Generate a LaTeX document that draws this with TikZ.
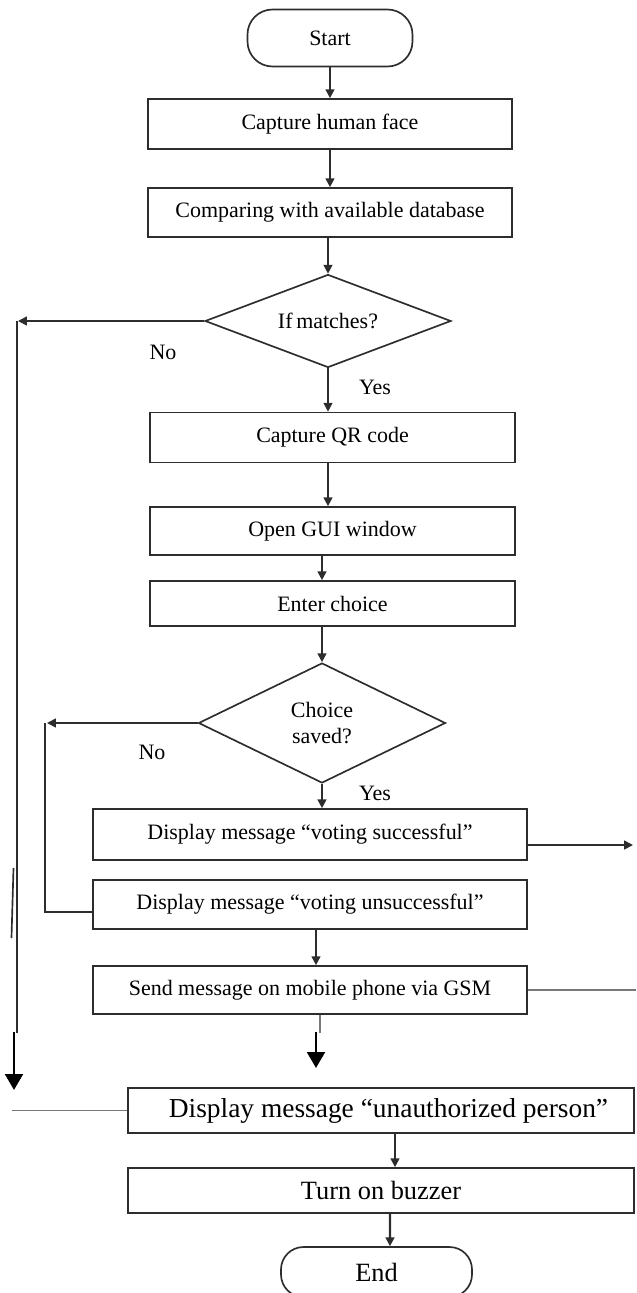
\documentclass[tikz,border=0pt]{standalone}
\usepackage{fontspec}
\setmainfont{Liberation Serif}
\usetikzlibrary{shapes.geometric, arrows.meta, calc}
\definecolor{FlowLine}{RGB}{45,45,45}
\definecolor{FlowGray}{RGB}{120,120,120}

\begin{document}
\begin{tikzpicture}[
          prc/.style={rectangle, draw=FlowLine, line width=0.95pt, inner sep=2pt,
                      minimum width=7.28cm, minimum height=1cm, align=center,
                      font=\fontsize{12.5}{15}\selectfont},
          dcs/.style={diamond, draw=FlowLine, line width=0.95pt, inner sep=0pt,
                      aspect=2.4, align=center, font=\fontsize{12.5}{15}\selectfont},
          trm/.style={rectangle, rounded corners=0.5cm, draw=FlowLine, line width=0.95pt,
                      minimum width=3.3cm, minimum height=1.14cm,
                      font=\fontsize{12.5}{15}\selectfont},
          big/.style={font=\fontsize{15}{18}\selectfont},
          lbl/.style={font=\fontsize{12.5}{15}\selectfont},
          ln/.style={draw=FlowLine, line width=0.95pt},
          arr/.style={-{Triangle[length=5pt, width=5pt]}, draw=FlowLine, line width=0.95pt},
          heavy/.style={-{Triangle[length=9pt, width=10pt]}, draw=black, line width=1.6pt}
        ]
        \useasboundingbox (0,0) rectangle (12.72,-25.86);

        % main column
        \node[trm] (start) at (6.6,-0.76) {Start};
        \node[prc] (face) at (6.6,-2.48) {Capture human face};
        \node[prc, minimum height=0.98cm] (cmp) at (6.6,-4.25)
              {Comparing with available database};
        \node[dcs, minimum width=4.92cm, minimum height=1.86cm] (match)
              at (6.56,-6.42) {If\,matches?};
        \node[prc, minimum width=7.3cm] (qr) at (6.65,-8.75) {Capture QR code};
        \node[prc, minimum width=7.3cm, minimum height=0.96cm] (gui)
              at (6.65,-10.62) {Open GUI window};
        \node[prc, minimum width=7.3cm, minimum height=0.9cm] (choice)
              at (6.65,-12.07) {Enter choice};
        \node[dcs, minimum width=4.94cm, minimum height=2.4cm] (saved)
              at (6.44,-14.46) {Choice\\saved?};
        \node[prc, minimum width=8.68cm, minimum height=1.02cm] (succ)
              at (6.2,-16.69) {Display message “voting successful”};
        \node[prc, minimum width=8.68cm, minimum height=0.98cm] (unsucc)
              at (6.2,-18.09) {Display message “voting unsuccessful”};
        \node[prc, minimum width=8.68cm, minimum height=0.96cm] (gsm)
              at (6.2,-19.8) {Send message on mobile phone via GSM};

        % bottom part
        \node[prc, font=\fontsize{15.6}{18}\selectfont, minimum width=10.12cm,
              minimum height=0.9cm] (unauth)
              at (7.62,-22.21) {\hspace*{0.3cm}Display message “unauthorized person”};
        \node[prc, big, minimum width=10.12cm, minimum height=0.9cm] (buzz)
              at (7.62,-23.81) {Turn on buzzer};
        \node[trm, big, minimum width=3.82cm, minimum height=1cm,
              rounded corners=0.45cm] (end) at (7.53,-25.44) {End};

        % yes / no labels
        \node[lbl] (noA-l) at (3.26,-7.04) {No};
        \node[lbl] (yesA-l) at (7.5,-7.74) {Yes};
        \node[lbl] (noB-l) at (3.04,-15.04) {No};
        \node[lbl] (yesB-l) at (7.5,-15.86) {Yes};

        % free ends
        \coordinate (noA) at (0.36,-6.42);
        \coordinate (dropA) at (0.34,-20.66);
        \coordinate (noB) at (0.94,-14.46);
        \coordinate (leftTop) at (0.28,-20.64);
        \coordinate (leftEnd) at (0.28,-21.8);
        \coordinate (tail) at (0.24,-22.21);
        \coordinate (stub) at (6.4,-20.66);
        \coordinate (gsmTop) at (6.32,-20.64);
        \coordinate (gsmTip) at (6.32,-21.36);
        \coordinate (outR) at (12.66,-16.9);
        \coordinate (outG) at (12.72,-19.8);

        % connectors
        \draw[arr] (start) -- (face);
        \draw[arr] (face) -- (cmp);
        \draw[arr] (cmp.south -| match.north) -- (match.north);
        \draw[arr] (match.south) -- (match.south |- qr.north);
        \draw[arr] (qr.south -| match.south) -- (match.south |- gui.north);
        \draw[arr] (gui.south -| saved.north) -- (saved.north |- choice.north);
        \draw[arr] (choice.south -| saved.north) -- (saved.north);
        \draw[arr] (saved.south) -- (saved.south |- succ.north);
        \draw[arr] ($(unsucc.south)+(0.12,0)$) -- ($(gsm.north)+(0.12,0)$);
        \draw[arr] ($(unauth.south)+(0.28,0)$) -- ($(buzz.north)+(0.28,0)$);
        \draw[arr, line width=1.2pt] ($(buzz.south)+(0.18,0)$) -- ($(end.north)+(0.27,0)$);

        % no branches
        \draw[arr] (match.west) -- (noA);
        \draw[ln] ([xshift=-0.02cm]noA) -- (dropA);
        \draw[arr] (saved.west) -- (noB);
        \draw[ln] ([xshift=-0.04cm]noB) |- ($(unsucc.west)+(0,-0.15)$);
        \draw[ln] (0.27,-17.36) -- (0.23,-18.76);
        \draw[heavy] (leftTop) -- (leftEnd);
        \draw[ln, draw=FlowGray] (unauth.west) -- (tail);

        % side exits
        \draw[arr] (succ.east |- outR) -- (outR);
        \draw[ln, draw=FlowGray] (gsm.east) -- (outG);
        \draw[ln, draw=FlowGray] (gsm.south -| stub) -- (stub);
        \draw[heavy] (gsmTop) -- (gsmTip);
      \end{tikzpicture}
\end{document}
